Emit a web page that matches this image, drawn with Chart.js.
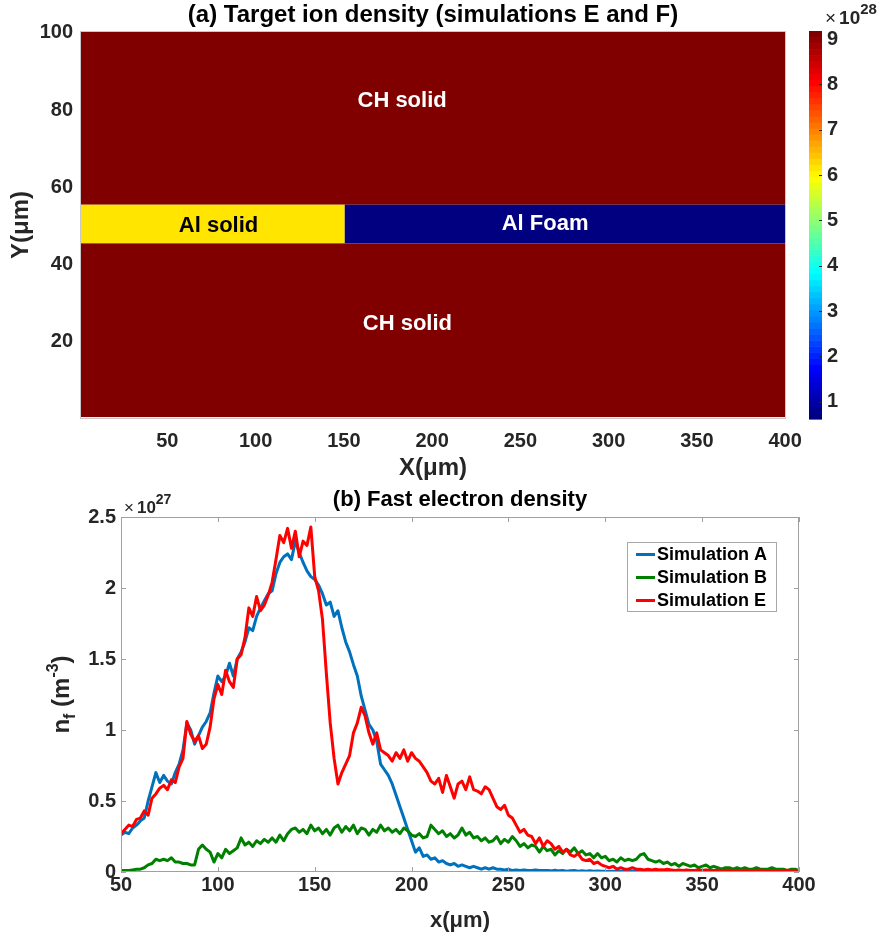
<!DOCTYPE html>
<html>
<head>
<meta charset="utf-8">
<title>Target ion density and fast electron density</title>
<script src="https://cdn.jsdelivr.net/npm/chart.js@4.4.1/dist/chart.umd.min.js"></script>
<style>
  body { margin: 0; background: #fff; }
  #page { position: relative; width: 883px; height: 932px; overflow: hidden; }
  canvas { position: absolute; }
</style>
</head>
<body>
<div id="page">
  <canvas id="ionChart" width="840" height="480" style="left:0;top:0"></canvas>
  <canvas id="densityBar" width="93" height="480" style="left:790px;top:0"></canvas>
  <canvas id="fastChart" width="883" height="452" style="left:0;top:480px"></canvas>
</div>
<script>
const FONT = '"Liberation Sans", Arial, Helvetica, sans-serif'
const INK = '#262626'

// (a) target regions, density in units of 1e28 m^-3
const regionNames = ['CH solid', 'Al solid', 'Al Foam', 'CH solid']
const regionXStart = [0.5, 0.5, 150.5, 0.5]
const regionXEnd = [400.5, 150.5, 400.5, 400.5]
const regionYStart = [55.5, 45.5, 45.5, 0.5]
const regionYEnd = [100.5, 55.5, 55.5, 45.5]
const regionDensity = [9.18, 6.2, 0.62, 9.18]
const regionTextX = [183, 79, 264, 186]
const regionTextY = [82.5, 50, 50.5, 24.5]

const ionXTicks = [50, 100, 150, 200, 250, 300, 350, 400]
const ionYTicks = [20, 40, 60, 80, 100]
const densityMin = 0.62
const densityMax = 9.18
const densityTicks = [1, 2, 3, 4, 5, 6, 7, 8, 9]

// (b) fast electron density in units of 1e27 m^-3, sampled every 2 um from 50 to 400
const fastXTicks = [50, 100, 150, 200, 250, 300, 350, 400]
const fastYTicks = [0, 0.5, 1, 1.5, 2, 2.5]
const seriesNames = ['Simulation A', 'Simulation B', 'Simulation E']

const simA = [
  0.26, 0.28, 0.27, 0.31, 0.33, 0.36, 0.38, 0.50, 0.60, 0.70,
  0.63, 0.68, 0.64, 0.62, 0.70, 0.76, 0.86, 1.05, 1.00, 0.90,
  0.96, 1.02, 1.06, 1.12, 1.26, 1.38, 1.34, 1.38, 1.47, 1.38,
  1.50, 1.55, 1.62, 1.72, 1.70, 1.80, 1.86, 1.91, 1.96, 1.98,
  2.10, 2.18, 2.22, 2.24, 2.20, 2.33, 2.25, 2.18, 2.12, 2.08,
  2.06, 2.02, 1.96, 1.88, 1.90, 1.80, 1.84, 1.72, 1.62, 1.55,
  1.46, 1.38, 1.24, 1.14, 1.04, 1.00, 0.92, 0.76, 0.72, 0.68,
  0.62, 0.54, 0.46, 0.38, 0.30, 0.22, 0.14, 0.17, 0.11, 0.12,
  0.09, 0.10, 0.07, 0.08, 0.06, 0.05, 0.06, 0.04, 0.05, 0.04,
  0.03, 0.04, 0.03, 0.02, 0.03, 0.02, 0.03, 0.02, 0.02, 0.015,
  0.02, 0.01, 0.015, 0.01, 0.015, 0.01, 0.01, 0.015, 0.01, 0.01,
  0.01, 0.008, 0.012, 0.008, 0.01, 0.006, 0.008, 0.01, 0.006, 0.008,
  0.006, 0.008, 0.005, 0.007, 0.005, 0.006, 0.004, 0.006, 0.005, 0.004,
  0.005, 0.004, 0.006, 0.004, 0.005, 0.003, 0.004, 0.005, 0.003, 0.004,
  0.004, 0.003, 0.004, 0.003, 0.004, 0.003, 0.003, 0.004, 0.003, 0.003,
  0.003, 0.002, 0.003, 0.003, 0.002, 0.003, 0.002, 0.002, 0.003, 0.002,
  0.002, 0.002, 0.003, 0.002, 0.002, 0.002, 0.002, 0.001, 0.002, 0.002,
  0.002, 0.001, 0.002, 0.001, 0.001, 0.001
]

const simB = [
  0.01, 0.01, 0.01, 0.015, 0.02, 0.02, 0.03, 0.05, 0.06, 0.09,
  0.08, 0.09, 0.08, 0.10, 0.07, 0.07, 0.06, 0.06, 0.05, 0.05,
  0.16, 0.19, 0.16, 0.14, 0.07, 0.13, 0.10, 0.16, 0.13, 0.15,
  0.17, 0.24, 0.19, 0.21, 0.18, 0.22, 0.20, 0.23, 0.21, 0.24,
  0.21, 0.26, 0.22, 0.27, 0.30, 0.31, 0.28, 0.30, 0.27, 0.33,
  0.29, 0.31, 0.27, 0.30, 0.26, 0.31, 0.33, 0.28, 0.32, 0.29,
  0.33, 0.27, 0.31, 0.30, 0.26, 0.30, 0.28, 0.33, 0.29, 0.31,
  0.28, 0.30, 0.27, 0.31, 0.29, 0.26, 0.25, 0.27, 0.24, 0.25,
  0.33, 0.30, 0.27, 0.29, 0.25, 0.27, 0.24, 0.26, 0.31, 0.26,
  0.28, 0.24, 0.25, 0.22, 0.24, 0.21, 0.22, 0.25, 0.20, 0.23,
  0.21, 0.25, 0.22, 0.18, 0.20, 0.17, 0.19, 0.18, 0.14, 0.18,
  0.15, 0.16, 0.12, 0.15, 0.13, 0.16, 0.14, 0.17, 0.13, 0.15,
  0.12, 0.13, 0.10, 0.13, 0.10, 0.11, 0.08, 0.09, 0.07, 0.10,
  0.08, 0.09, 0.08, 0.09, 0.12, 0.13, 0.09, 0.08, 0.07, 0.08,
  0.06, 0.07, 0.05, 0.06, 0.04, 0.06, 0.05, 0.04, 0.05, 0.03,
  0.04, 0.05, 0.03, 0.04, 0.03, 0.02, 0.03, 0.03, 0.02, 0.03,
  0.02, 0.03, 0.02, 0.02, 0.03, 0.02, 0.02, 0.02, 0.03, 0.02,
  0.02, 0.02, 0.01, 0.02, 0.02, 0.01
]

const simE = [
  0.27, 0.30, 0.33, 0.32, 0.37, 0.38, 0.43, 0.40, 0.52, 0.55,
  0.59, 0.61, 0.58, 0.65, 0.63, 0.74, 0.80, 1.06, 0.97, 0.92,
  0.96, 0.87, 0.90, 1.02, 1.22, 1.32, 1.25, 1.42, 1.34, 1.30,
  1.50, 1.53, 1.65, 1.86, 1.80, 1.94, 1.84, 1.88, 1.95, 2.04,
  2.20, 2.37, 2.32, 2.42, 2.28, 2.40, 2.22, 2.33, 2.30, 2.43,
  2.08, 1.98, 1.78, 1.40, 1.05, 0.80, 0.62, 0.70, 0.76, 0.82,
  0.98, 1.05, 1.16, 1.10, 0.98, 0.90, 0.98, 0.86, 0.84, 0.82,
  0.78, 0.84, 0.80, 0.86, 0.78, 0.84, 0.80, 0.78, 0.74, 0.70,
  0.64, 0.62, 0.66, 0.56, 0.68, 0.60, 0.52, 0.62, 0.64, 0.58,
  0.67, 0.58, 0.57, 0.55, 0.60, 0.58, 0.52, 0.46, 0.44, 0.47,
  0.40, 0.38, 0.33, 0.28, 0.30, 0.26, 0.25, 0.20, 0.24, 0.18,
  0.22, 0.20, 0.16, 0.18, 0.14, 0.16, 0.12, 0.11, 0.13, 0.09,
  0.08, 0.09, 0.06, 0.07, 0.05, 0.04, 0.03, 0.04, 0.02, 0.03,
  0.02, 0.02, 0.03, 0.02, 0.02, 0.015, 0.02, 0.015, 0.02, 0.015,
  0.015, 0.02, 0.015, 0.01, 0.015, 0.01, 0.015, 0.01, 0.01, 0.015,
  0.01, 0.015, 0.01, 0.01, 0.012, 0.01, 0.01, 0.012, 0.01, 0.01,
  0.01, 0.012, 0.01, 0.01, 0.01, 0.012, 0.01, 0.01, 0.01, 0.01,
  0.01, 0.01, 0.012, 0.01, 0.01, 0.01
]

const xPos = simA.map((_, i) => 50 + 2 * i)

// jet colormap with 64 steps, like the matlab colorbar
const jetColor = (value) => {
  const t = (value - densityMin) / (densityMax - densityMin)
  const k = Math.max(0, Math.min(63, Math.floor(t * 64)))
  const s = k / 63
  const c = v => Math.round(255 * Math.max(0, Math.min(1, v)))
  return [c(1.5 - Math.abs(4 * s - 3)), c(1.5 - Math.abs(4 * s - 2)), c(1.5 - Math.abs(4 * s - 1))]
}
const rgb = c => `rgb(${c[0]}, ${c[1]}, ${c[2]})`

const fixTicks = values => scale => { scale.ticks = values.map(v => ({ value: v })) }
const tickFont = { family: FONT, size: 20, weight: 'bold' }

// title centred over the plot box (matlab style), not over the whole canvas
const axesTitle = {
  id: 'axesTitle',
  afterDraw(chart, args, opts) {
    const { ctx, chartArea: a } = chart
    ctx.save()
    ctx.fillStyle = '#000'
    ctx.font = `bold ${opts.size}px ${FONT}`
    ctx.textAlign = 'center'
    ctx.textBaseline = 'middle'
    ctx.fillText(opts.text, (a.left + a.right) / 2, opts.y)
    ctx.restore()
  }
}

// box with inward ticks on all four sides
const boxPlugin = {
  id: 'matlabBox',
  afterDatasetsDraw(chart, args, opts) {
    const { ctx, chartArea: a, scales: { x, y } } = chart
    ctx.save()
    ctx.strokeStyle = opts.color
    ctx.lineWidth = 1
    ctx.strokeRect(a.left + 0.5, a.top + 0.5, a.right - a.left - 1, a.bottom - a.top - 1)
    if (opts.tick > 0) {
      ctx.beginPath()
      x.ticks.forEach(t => {
        const px = Math.round(x.getPixelForValue(t.value)) + 0.5
        ctx.moveTo(px, a.bottom); ctx.lineTo(px, a.bottom - opts.tick)
        ctx.moveTo(px, a.top); ctx.lineTo(px, a.top + opts.tick)
      })
      y.ticks.forEach(t => {
        const py = Math.round(y.getPixelForValue(t.value)) + 0.5
        ctx.moveTo(a.left, py); ctx.lineTo(a.left + opts.tick, py)
        ctx.moveTo(a.right, py); ctx.lineTo(a.right - opts.tick, py)
      })
      ctx.stroke()
    }
    ctx.restore()
  }
}

// "x10^n" multiplier drawn above an axis
const drawExponent = (ctx, x, baseline, power, size) => {
  ctx.save()
  ctx.fillStyle = INK
  ctx.textBaseline = 'alphabetic'
  ctx.textAlign = 'left'
  ctx.font = `${size}px ${FONT}`
  ctx.fillText('\u00d7', x, baseline)
  let cx = x + ctx.measureText('\u00d7').width + 3
  ctx.font = `bold ${size}px ${FONT}`
  ctx.fillText('10', cx, baseline)
  cx += ctx.measureText('10').width
  ctx.font = `bold ${Math.round(size * 0.8)}px ${FONT}`
  ctx.fillText(power, cx, baseline - size * 0.55)
  ctx.restore()
}

const cellPlugin = {
  id: 'cells',
  beforeDatasetsDraw(chart) {
    const { ctx, scales: { x, y } } = chart
    ctx.save()
    regionDensity.forEach((d, i) => {
      const x0 = x.getPixelForValue(regionXStart[i])
      const x1 = x.getPixelForValue(regionXEnd[i])
      const y0 = y.getPixelForValue(regionYStart[i])
      const y1 = y.getPixelForValue(regionYEnd[i])
      ctx.fillStyle = rgb(jetColor(d))
      ctx.fillRect(x0, y1, x1 - x0, y0 - y1)
    })
    ctx.font = `bold 22px ${FONT}`
    ctx.textAlign = 'center'
    ctx.textBaseline = 'middle'
    regionNames.forEach((name, i) => {
      const c = jetColor(regionDensity[i])
      const light = 0.299 * c[0] + 0.587 * c[1] + 0.114 * c[2] > 150
      ctx.fillStyle = light ? '#000' : '#fff'
      ctx.fillText(name, x.getPixelForValue(regionTextX[i]), y.getPixelForValue(regionTextY[i]))
    })
    ctx.restore()
  }
}

new Chart(document.getElementById('ionChart'), {
  type: 'scatter',
  data: { datasets: [] },
  options: {
    responsive: false,
    animation: false,
    events: [],
    layout: { padding: { top: 31, right: 54 } },
    plugins: {
      legend: { display: false },
      tooltip: { enabled: false },
      axesTitle: { text: '(a) Target ion density (simulations E and F)', size: 24, y: 15 },
      matlabBox: { color: '#c8c8c8', tick: 0 }
    },
    scales: {
      x: {
        type: 'linear', min: 0.5, max: 400.5,
        afterBuildTicks: fixTicks(ionXTicks),
        afterFit: s => { s.height = 61 },
        grid: { display: false, drawTicks: false },
        border: { display: false },
        ticks: { font: tickFont, color: INK, padding: 10, autoSkip: false, maxRotation: 0, callback: v => String(v) },
        title: { display: true, text: 'X(\u03bcm)', color: INK, font: { family: FONT, size: 24, weight: 'bold', lineHeight: 1 }, padding: 0 }
      },
      y: {
        type: 'linear', min: 0, max: 100.5,
        afterBuildTicks: fixTicks(ionYTicks),
        afterFit: s => { s.width = 80 },
        grid: { display: false, drawTicks: false },
        border: { display: false },
        ticks: { font: tickFont, color: INK, padding: 7, autoSkip: false, callback: v => String(v) },
        title: { display: true, text: 'Y(\u03bcm)', color: INK, font: { family: FONT, size: 24, weight: 'bold', lineHeight: 1 }, padding: { top: 9, bottom: 0 } }
      }
    }
  },
  plugins: [cellPlugin, boxPlugin, axesTitle]
})

const colorbarPlugin = {
  id: 'colorbar',
  beforeDatasetsDraw(chart) {
    const { ctx, chartArea: a, scales: { y } } = chart
    ctx.save()
    const step = (densityMax - densityMin) / 64
    for (let k = 0; k < 64; k++) {
      const v0 = densityMin + k * step
      const top = y.getPixelForValue(v0 + step)
      const bottom = y.getPixelForValue(v0)
      ctx.fillStyle = rgb(jetColor(v0 + step / 2))
      ctx.fillRect(a.left, top, a.right - a.left, bottom - top + 0.6)
    }
    ctx.strokeStyle = INK
    ctx.beginPath()
    y.ticks.forEach(t => {
      const py = Math.round(y.getPixelForValue(t.value)) + 0.5
      ctx.moveTo(a.right, py); ctx.lineTo(a.right - 3, py)
    })
    ctx.stroke()
    ctx.restore()
  },
  afterDraw(chart) {
    drawExponent(chart.ctx, chart.chartArea.right + 3, 24, '28', 19)
  }
}

new Chart(document.getElementById('densityBar'), {
  type: 'scatter',
  data: { datasets: [] },
  options: {
    responsive: false,
    animation: false,
    events: [],
    layout: { padding: { left: 19, top: 31, bottom: 61 } },
    plugins: { legend: { display: false }, tooltip: { enabled: false } },
    scales: {
      x: { type: 'linear', min: 0, max: 1, display: false },
      y: {
        type: 'linear', position: 'right', min: densityMin, max: densityMax,
        afterBuildTicks: fixTicks(densityTicks),
        afterFit: s => { s.width = 61 },
        grid: { display: false, drawTicks: false },
        border: { display: false },
        ticks: { font: tickFont, color: INK, padding: 5, autoSkip: false, callback: v => String(v) }
      }
    }
  },
  plugins: [colorbarPlugin]
})

const fastLegend = {
  id: 'fastLegend',
  afterDatasetsDraw(chart) {
    const { ctx, chartArea: a } = chart
    const right = a.right - 22
    const top = a.top + 25
    const w = 150
    const h = 70
    const left = right - w
    ctx.save()
    ctx.fillStyle = '#fff'
    ctx.fillRect(left, top, w, h)
    ctx.strokeStyle = '#a8a8a8'
    ctx.lineWidth = 1
    ctx.strokeRect(left + 0.5, top + 0.5, w - 1, h - 1)
    ctx.font = `bold 18px ${FONT}`
    ctx.textBaseline = 'middle'
    ctx.textAlign = 'left'
    chart.data.datasets.forEach((ds, i) => {
      const cy = top + 12.5 + i * 23
      ctx.strokeStyle = ds.borderColor
      ctx.lineWidth = 3
      ctx.beginPath()
      ctx.moveTo(left + 9, cy); ctx.lineTo(left + 28, cy)
      ctx.stroke()
      ctx.fillStyle = '#000'
      ctx.fillText(ds.label, left + 30, cy + 1)
    })
    ctx.restore()
  },
  afterDraw(chart) {
    const { ctx, chartArea: a } = chart
    drawExponent(ctx, a.left + 3, 33, '27', 17)
    // n_f (m^-3), rotated
    const parts = [
      ['n', 24, 0], ['f', 16, 6], [' (m', 24, 0], ['-3', 16, -11], [')', 24, 0]
    ]
    ctx.save()
    ctx.translate(62, (a.top + a.bottom) / 2)
    ctx.rotate(-Math.PI / 2)
    ctx.fillStyle = INK
    ctx.textBaseline = 'alphabetic'
    ctx.textAlign = 'left'
    let total = 0
    parts.forEach(p => { ctx.font = `bold ${p[1]}px ${FONT}`; total += ctx.measureText(p[0]).width })
    let cx = -total / 2
    parts.forEach(p => {
      ctx.font = `bold ${p[1]}px ${FONT}`
      ctx.fillText(p[0], cx, 7 + p[2])
      cx += ctx.measureText(p[0]).width
    })
    ctx.restore()
  }
}

new Chart(document.getElementById('fastChart'), {
  type: 'line',
  data: {
    datasets: [
      { label: seriesNames[0], data: xPos.map((x, i) => ({ x, y: simA[i] })), borderColor: '#0072BD', order: 3 },
      { label: seriesNames[1], data: xPos.map((x, i) => ({ x, y: simB[i] })), borderColor: '#008000', order: 2 },
      { label: seriesNames[2], data: xPos.map((x, i) => ({ x, y: simE[i] })), borderColor: '#FF0000', order: 1 }
    ]
  },
  options: {
    responsive: false,
    animation: false,
    events: [],
    layout: { padding: { top: 37, right: 84 } },
    elements: {
      line: { borderWidth: 3, tension: 0, borderJoinStyle: 'round', borderCapStyle: 'round' },
      point: { radius: 0 }
    },
    plugins: {
      legend: { display: false },
      tooltip: { enabled: false },
      axesTitle: { text: '(b) Fast electron density', size: 22, y: 20 },
      matlabBox: { color: '#a0a0a0', tick: 5 }
    },
    scales: {
      x: {
        type: 'linear', min: 50, max: 400,
        afterBuildTicks: fixTicks(fastXTicks),
        afterFit: s => { s.height = 60 },
        grid: { display: false, drawTicks: false },
        border: { display: false },
        ticks: { font: tickFont, color: INK, padding: 1, autoSkip: false, maxRotation: 0, callback: v => String(v) },
        title: { display: true, text: 'x(\u03bcm)', color: INK, font: { family: FONT, size: 22, weight: 'bold', lineHeight: 1 }, padding: 0 }
      },
      y: {
        type: 'linear', min: 0, max: 2.5,
        afterBuildTicks: fixTicks(fastYTicks),
        afterFit: s => { s.width = 121 },
        grid: { display: false, drawTicks: false },
        border: { display: false },
        ticks: { font: tickFont, color: INK, padding: 5, autoSkip: false, callback: v => String(v) }
      }
    }
  },
  plugins: [boxPlugin, fastLegend, axesTitle]
})
</script>
</body>
</html>
